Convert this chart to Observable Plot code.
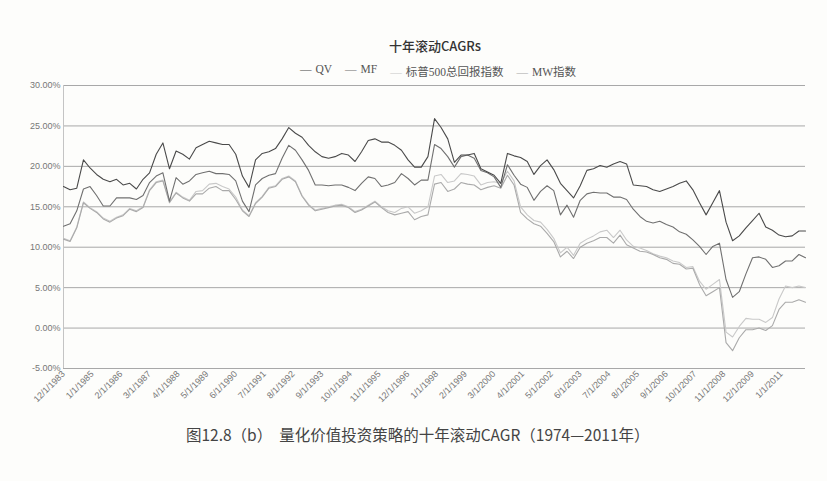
<!DOCTYPE html>
<html>
<head>
<meta charset="utf-8">
<script src="https://cdn.jsdelivr.net/npm/d3@7"></script>
<script src="https://cdn.jsdelivr.net/npm/@observablehq/plot@0.6"></script>
<style>
  html, body { margin: 0; padding: 0; }
  body { width: 827px; height: 481px; overflow: hidden; background: #fdfdfb; position: relative;
         font-family: "Noto Sans CJK SC", "Noto Sans", sans-serif; }
  #title { position: absolute; top: 36px; left: 0; width: 870px; text-align: center;
           font-size: 13px; color: #333; font-weight: 500; }
  #legend { position: absolute; top: 63px; left: 0; width: 876px; display: flex; justify-content: center;
            gap: 13px; font-family: "Liberation Serif", "DejaVu Serif", "Noto Sans CJK SC", serif;
            font-size: 11.5px; color: #555; }
  #legend span.d { margin-right: 4px; }
  #chart { position: absolute; top: 78px; left: 0; }
  #caption { position: absolute; top: 423px; left: 186px; white-space: pre;
             font-size: 15.5px; color: #444; }
</style>
</head>
<body>
<div id="title">十年滚动CAGRs</div>
<div id="legend"></div>
<div id="chart"></div>
<div id="caption">图12.8（b）  量化价值投资策略的十年滚动CAGR（1974—2011年）</div>
<script>
// Sampling: quarterly, from 12/1/1983 to 12/1/2011
const startDate = new Date(Date.UTC(1983, 11, 1));
const endDate = new Date(Date.UTC(2011, 11, 1));
const dates = d3.utcMonth.range(startDate, new Date(Date.UTC(2012, 0, 1)), 3);

const seriesNames = ["QV", "MF", "标普500总回报指数", "MW指数"];
const seriesColors = ["#4a4a4a", "#707070", "#c9c9c9", "#aaaaaa"];

const qv = [17.5,17.1,17.3,20.8,19.8,19.0,18.4,18.1,18.4,17.7,17.9,17.2,18.4,19.2,21.5,22.9,19.7,21.9,21.5,20.9,
  22.3,22.7,23.1,22.9,22.7,22.7,21.5,18.8,17.4,20.8,21.6,21.8,22.2,23.4,24.8,24.1,23.6,22.6,21.8,21.2,
  21.0,21.2,21.6,21.4,20.6,21.8,23.2,23.4,23.0,23.0,22.6,22.0,20.8,19.9,19.9,21.2,25.9,24.8,23.4,20.5,
  21.4,21.4,21.6,19.7,19.3,18.9,17.9,21.6,21.3,21.1,20.6,19.0,20.1,20.8,19.6,17.9,17.0,16.1,17.6,19.5,
  19.7,20.1,19.9,20.3,20.6,20.3,17.7,17.6,17.5,17.1,16.9,17.2,17.5,17.9,18.2,17.1,15.5,14.0,15.5,17.0,
  13.1,10.8,11.4,12.4,13.3,14.2,12.5,12.1,11.5,11.3,11.4,12.0,12.0];

const mf = [12.6,12.9,14.5,17.2,17.5,16.4,15.1,15.1,16.1,16.1,16.1,15.9,16.4,18.0,18.8,19.2,15.7,18.6,17.8,18.2,
  19.0,19.2,19.4,19.1,19.1,19.0,18.2,15.7,14.4,17.7,18.5,18.9,19.1,21.0,22.6,22.0,20.8,19.5,17.7,17.7,
  17.6,17.7,17.7,17.4,17.0,17.9,18.7,18.5,17.5,17.7,18.0,19.1,18.5,17.7,18.3,18.3,22.7,22.2,21.2,19.9,
  21.2,21.4,21.0,19.5,19.2,18.7,17.4,20.2,18.9,17.8,17.4,15.8,16.9,17.6,17.0,14.0,15.2,13.7,15.8,16.6,
  16.8,16.7,16.7,16.2,16.2,15.9,14.7,13.8,13.2,13.0,13.2,12.8,12.5,11.9,11.6,10.9,10.1,9.1,10.1,10.5,
  6.0,3.8,4.5,6.7,8.7,8.8,8.5,7.5,7.7,8.3,8.3,9.1,8.7];

const sp500 = [11.1,10.8,12.5,15.6,14.9,14.4,13.6,13.2,13.7,14.0,14.8,14.5,15.0,17.1,18.1,18.3,15.6,16.8,16.2,15.8,
  16.9,17.0,17.8,17.9,17.5,17.2,16.2,14.6,13.9,15.5,16.3,17.4,17.6,18.5,18.8,18.2,16.4,15.3,14.6,14.8,
  15.0,15.2,15.3,15.0,14.4,14.7,15.2,15.7,15.0,14.5,14.3,14.8,15.0,14.2,14.5,15.0,18.8,19.0,18.0,18.2,
  19.1,19.0,18.8,17.7,18.0,18.1,17.9,19.4,18.2,15.0,14.0,13.3,13.1,12.2,11.1,9.3,10.0,9.0,10.5,11.0,
  11.4,11.9,12.1,11.2,12.1,10.9,10.1,9.9,9.6,9.2,8.9,8.7,8.3,8.1,7.5,7.6,5.8,4.8,5.4,6.0,
  -0.5,-1.1,0.2,1.2,1.1,1.1,0.7,1.3,3.6,5.2,5.0,5.2,5.0];

const mw = [11.0,10.7,12.4,15.5,14.8,14.3,13.5,13.1,13.6,13.9,14.7,14.4,14.9,17.0,18.0,18.2,15.5,16.7,16.1,15.7,
  16.6,16.6,17.3,17.5,17.0,17.0,15.9,14.5,13.8,15.4,16.2,17.3,17.5,18.4,18.7,18.1,16.3,15.2,14.5,14.7,
  14.9,15.1,15.2,14.9,14.3,14.6,15.1,15.6,14.9,14.3,14.0,14.2,14.4,13.4,13.8,14.0,17.8,18.0,16.9,17.2,
  18.0,17.8,17.7,17.1,17.4,17.6,17.3,18.9,17.7,14.3,13.5,12.9,12.6,11.7,10.7,8.8,9.5,8.6,10.0,10.5,
  10.8,11.2,11.2,10.5,11.5,10.3,9.9,9.5,9.4,9.1,8.7,8.5,8.0,7.9,7.3,7.4,5.4,4.0,4.5,5.0,
  -1.8,-2.8,-1.2,-0.2,-0.2,0.0,-0.3,0.3,2.3,3.2,3.2,3.5,3.2];

const yTicks = [-5, 0, 5, 10, 15, 20, 25, 30];
const xTickLabels = ["12/1/1983","1/1/1985","2/1/1986","3/1/1987","4/1/1988","5/1/1989","6/1/1990",
  "7/1/1991","8/1/1992","9/1/1993","10/1/1994","11/1/1995","12/1/1996","1/1/1998","2/1/1999",
  "3/1/2000","4/1/2001","5/1/2002","6/1/2003","7/1/2004","8/1/2005","9/1/2006","10/1/2007",
  "11/1/2008","12/1/2009","1/1/2011"];

const parse = d3.utcParse("%m/%d/%Y");
const xTicks = xTickLabels.map(parse);
const fmt = d3.utcFormat("%-m/%-d/%Y");

const allSeries = [qv, mf, sp500, mw];
const rows = (k) => dates.map((d, i) => ({date: d, value: allSeries[k][i]}));

// legend
const legend = document.getElementById("legend");
seriesNames.forEach((n, k) => {
  const item = document.createElement("div");
  item.innerHTML = `<span class="d" style="color:${seriesColors[k]}">—</span>${n}`;
  legend.appendChild(item);
});

const chart = Plot.plot({
  width: 827,
  height: 332,
  marginTop: 7,
  marginBottom: 42,
  marginLeft: 63,
  marginRight: 22,
  style: {background: "transparent", fontFamily: "'Liberation Sans', Arial, sans-serif", fontSize: "9px", color: "#777"},
  x: {type: "utc", domain: [startDate, endDate]},
  y: {domain: [-5, 30]},
  marks: [
    Plot.ruleY(yTicks, {stroke: "#a8a8a8", strokeWidth: 1}),
    Plot.ruleX([startDate], {stroke: "#c4c4c4"}),
    Plot.axisY({ticks: yTicks, tickFormat: d => d.toFixed(2) + "%", tickSize: 0, tickPadding: 3, label: null}),
    Plot.axisX({ticks: xTicks, tickFormat: fmt, tickRotate: -45, tickSize: 0, tickPadding: 4, label: null}),
    Plot.line(rows(2), {x: "date", y: "value", stroke: seriesColors[2], strokeWidth: 1.1}),
    Plot.line(rows(3), {x: "date", y: "value", stroke: seriesColors[3], strokeWidth: 1.1}),
    Plot.line(rows(1), {x: "date", y: "value", stroke: seriesColors[1], strokeWidth: 1.1}),
    Plot.line(rows(0), {x: "date", y: "value", stroke: seriesColors[0], strokeWidth: 1.1})
  ]
});
document.getElementById("chart").appendChild(chart);
</script>
</body>
</html>
